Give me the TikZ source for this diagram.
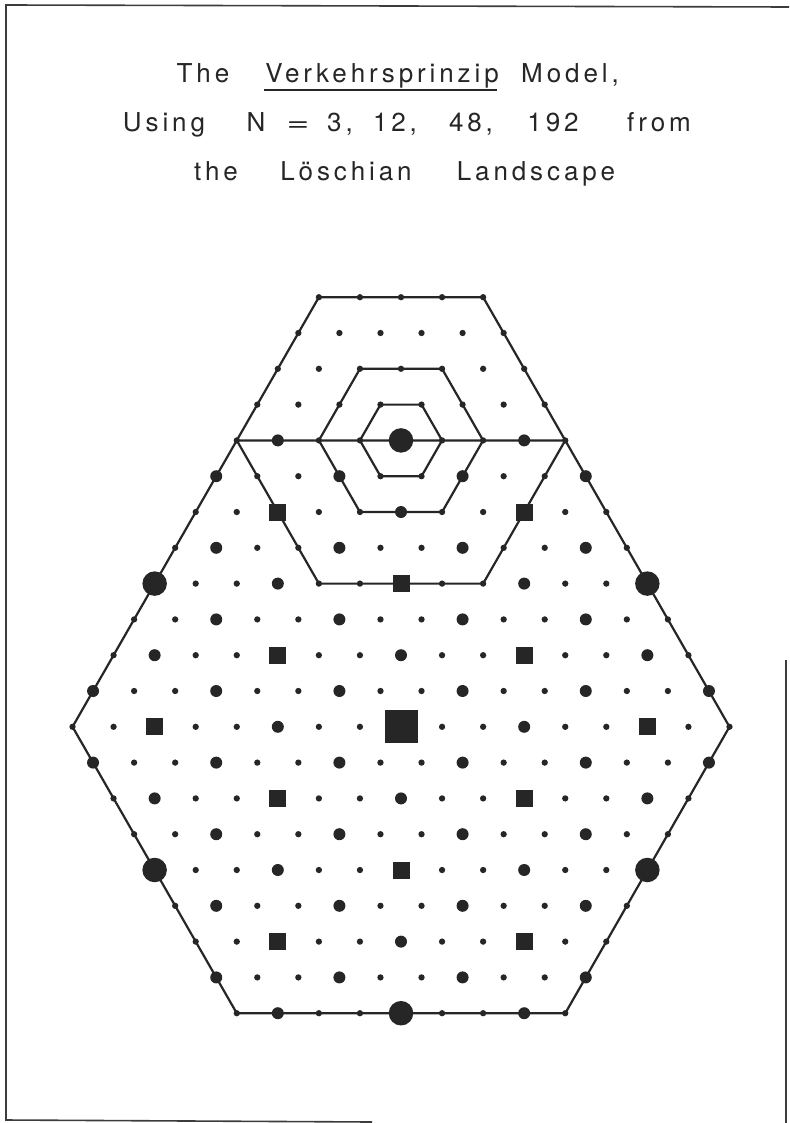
\documentclass[tikz,border=0pt]{standalone}
\usepackage{fontspec}
\newfontfamily\ttl[LetterSpace=15]{TeX Gyre Heros}
\definecolor{ink}{RGB}{38,38,38}
\begin{document}
\begin{tikzpicture}[x=1pt,y=-1pt,
  lev0/.style={circle,fill=ink,inner sep=0pt,minimum size=6.3pt},
  lev1/.style={circle,fill=ink,inner sep=0pt,minimum size=12pt},
  lev2/.style={rectangle,fill=ink,inner sep=0pt,minimum size=17pt},
  lev3/.style={circle,fill=ink,inner sep=0pt,minimum size=24.5pt},
  lev4/.style={rectangle,fill=ink,inner sep=0pt,minimum size=33pt},
  hexline/.style={draw=ink,line width=2.2pt,line join=miter},
  frameline/.style={draw=ink!90,line width=1.6pt},
  word/.style={anchor=base,inner sep=0pt,text=ink,xshift=2pt,font=\ttl\fontsize{26}{30}\selectfont}]
\useasboundingbox (0,0) rectangle (789,1123);
\fill[white] (0,0) rectangle (789,1123);
% frame
\coordinate (f1) at (6,5);
\coordinate (f2) at (789,7);
\coordinate (f3) at (6,1120);
\coordinate (f4) at (372,1122);
\coordinate (f5) at (786,660);
\coordinate (f6) at (786,1123);
\draw[frameline] (f2) -- (f1) -- (f3) -- (f4);
\draw[frameline] (f5) -- (f6);
% title
\node[word] (w1) at (201,83) {The};
\node[word] (w2) at (380,83) {Verkehrsprinzip};
\node[word] (w3) at (568,83) {Model,};
\draw[ink,line width=1.8pt] ([yshift=-7pt,xshift=-1pt]w2.base west) -- ([yshift=-7pt,xshift=-2pt]w2.base east);
\node[word] (w4) at (162,132) {Using};
\node[word] (w5) at (254,132) {N};
\node[word] (w6) at (296,132) {\scalebox{1.5}[1]{=}};
\node[word] (w7) at (338,132) {3,};
\node[word] (w8) at (393,132) {12,};
\node[word] (w9) at (469,132) {48,};
\node[word] (w10) at (551,132) {192};
\node[word] (w11) at (657,132) {from};
\node[word] (w12) at (214,181) {the};
\node[word] (w13) at (344,181) {Löschian};
\node[word] (w14) at (534,181) {Landscape};
% lattice
\foreach \j in {-8,...,12}{
  \foreach \i in {-8,...,8}{
    \pgfmathtruncatemacro{\inside}{((\j<=8) && (abs(\i)<=8) && (abs(\i+\j)<=8)) || ((\j>8) && (\i>=-8) && (\i+\j<=8)) ? 1 : 0}
    \ifnum\inside=1
      \pgfmathtruncatemacro{\mthree}{mod(\i-\j,3)==0 ? 1 : 0}
      \pgfmathtruncatemacro{\meight}{(mod(\i,8)==0) && (mod(\j,8)==0) ? 1 : 0}
      \pgfmathtruncatemacro{\mfour}{(mod(\i,4)==0) && (mod(\j,4)==0) ? 1 : 0}
      \pgfmathtruncatemacro{\mtwo}{(mod(\i,2)==0) && (mod(\j,2)==0) ? 1 : 0}
      \def\lev{0}
      \ifnum\j<9
        \ifnum\mthree=1
          \def\lev{1}
          \ifnum\mtwo=1 \def\lev{2}\fi
          \ifnum\mfour=1 \def\lev{3}\fi
          \ifnum\meight=1 \def\lev{4}\fi
        \fi
      \fi
      \pgfmathsetmacro{\px}{401+41.06*(\i+\j/2)}
      \pgfmathsetmacro{\py}{726.8-35.8*\j}
      \node[lev\lev] (p\i_\j) at (\px,\py) {};
    \fi
  }
}
% N = 192 market area
\draw[hexline] (p-8_0.center) -- (p-8_8.center) -- (p0_8.center) -- (p8_0.center) -- (p8_-8.center) -- (p0_-8.center) -- cycle;
% N = 48 market area
\draw[hexline] (p-8_8.center) -- (p-8_12.center) -- (p-4_12.center) -- (p0_8.center);
\draw[hexline] (p-8_8.center) -- (p-4_4.center) -- (p0_4.center) -- (p0_8.center);
% N = 12 market area
\draw[hexline] (p-2_8.center) -- (p-4_10.center) -- (p-6_10.center) -- (p-6_8.center) -- (p-4_6.center) -- (p-2_6.center) -- cycle;
% N = 3 market area
\draw[hexline] (p-3_8.center) -- (p-4_9.center) -- (p-5_9.center) -- (p-5_8.center) -- (p-4_7.center) -- (p-3_7.center) -- cycle;
\end{tikzpicture}
\end{document}
